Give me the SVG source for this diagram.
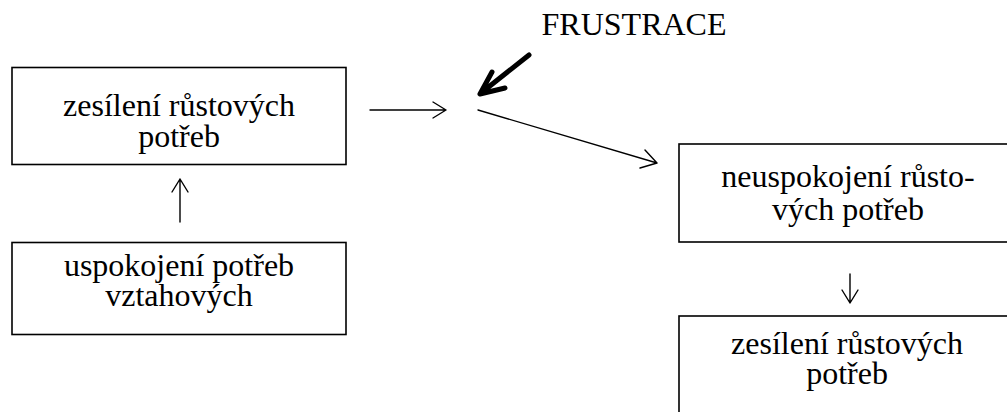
<svg xmlns="http://www.w3.org/2000/svg" width="1007" height="412" viewBox="0 0 1007 412">
<style>
.box{fill:#fff;stroke:#000;stroke-width:1.6}
.t{font-family:"Liberation Serif","Times New Roman",serif;font-size:32px;fill:#000;text-anchor:middle}
.c{fill:none;stroke:#000;stroke-width:1.4;stroke-linecap:round;stroke-linejoin:round}
.b{fill:none;stroke:#000;stroke-width:5;stroke-linecap:round;stroke-linejoin:round}
</style>
<rect width="1007" height="412" fill="#fff"/>
<g id="node-zesileni-1">
<rect class="box" x="12" y="67.5" width="334" height="97"/>
<text class="t" x="179" y="116">zesílení růstových</text>
<text class="t" x="179" y="146.5">potřeb</text>
</g>
<g id="node-uspokojeni">
<rect class="box" x="12" y="242.5" width="334" height="92"/>
<text class="t" x="179" y="275.5">uspokojení potřeb</text>
<text class="t" x="179" y="306">vztahových</text>
</g>
<g id="node-neuspokojeni">
<rect class="box" x="679" y="144" width="340" height="98"/>
<text class="t" x="848" y="186.5">neuspokojení růsto-</text>
<text class="t" x="848" y="219.5">vých potřeb</text>
</g>
<g id="node-zesileni-2">
<rect class="box" x="679" y="316" width="340" height="110"/>
<text class="t" x="847" y="354">zesílení růstových</text>
<text class="t" x="847" y="384">potřeb</text>
</g>
<g id="label-frustrace">
<text class="t" x="634" y="35">FRUSTRACE</text>
</g>
<g id="connectors">
<path class="c" d="M370 110H446M433 102L446 110L433 118"/>
<path class="c" d="M180 222V179M172 192L180 179L188 192"/>
<path class="c" d="M850 274V303M842 290L850 303L858 290"/>
<path class="c" d="M478 110L657 163M645 150L657 163L640 168"/>
<path class="b" d="M529 55L481 93M492 72L480 94L505 88"/>
</g>
</svg>
